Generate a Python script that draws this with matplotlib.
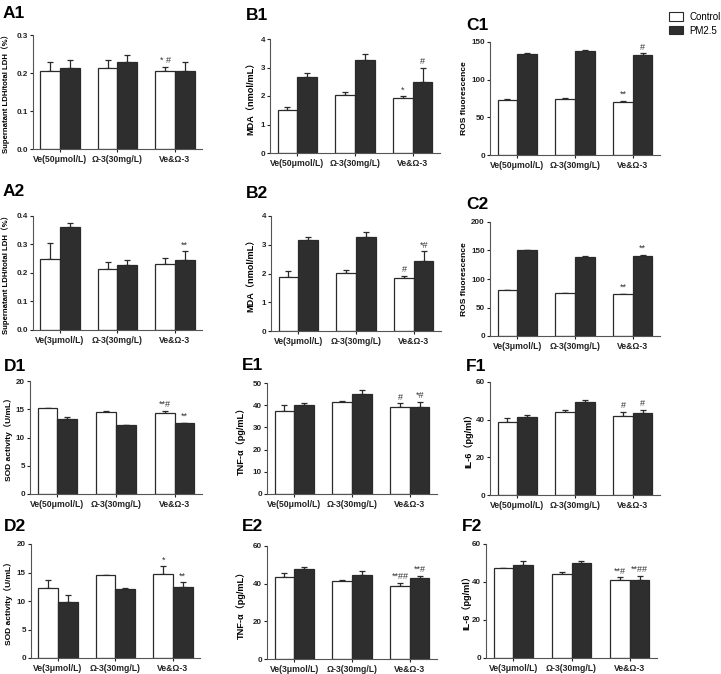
import matplotlib
matplotlib.use("Agg")
import matplotlib.pyplot as plt
from matplotlib.patches import Patch
import numpy as np

plt.rcParams['font.family'] = ['Liberation Sans', 'Noto Sans CJK SC', 'DejaVu Sans']

W, H = 721, 674

groups_50 = ["Ve(50μmol/L)", "Ω-3(30mg/L)", "Ve&Ω-3"]
groups_3 = ["Ve(3μmol/L)", "Ω-3(30mg/L)", "Ve&Ω-3"]
series = ["Control", "PM2.5"]

# Panel data: control means/errors, PM2.5 means/errors, annotations
A1_ctrl = [0.205, 0.213, 0.204]; A1_ctrl_err = [0.023, 0.022, 0.013]
A1_pm = [0.214, 0.228, 0.206];   A1_pm_err = [0.021, 0.019, 0.023]
A1_ann = [("", ""), ("", ""), ("* #", "")]

B1_ctrl = [1.52, 2.02, 1.92];   B1_ctrl_err = [0.10, 0.12, 0.08]
B1_pm = [2.66, 3.28, 2.50];     B1_pm_err = [0.13, 0.18, 0.50]
B1_ann = [("", ""), ("", ""), ("*", "#")]

C1_ctrl = [73, 75, 71];         C1_ctrl_err = [1.0, 0.7, 1.0]
C1_pm = [134, 138, 133];        C1_pm_err = [1.5, 1.5, 2.0]
C1_ann = [("", ""), ("", ""), ("**", "#")]

A2_ctrl = [0.250, 0.215, 0.232]; A2_ctrl_err = [0.057, 0.025, 0.020]
A2_pm = [0.360, 0.229, 0.246];   A2_pm_err = [0.017, 0.018, 0.030]
A2_ann = [("", ""), ("", ""), ("", "**")]

B2_ctrl = [1.87, 2.02, 1.85];   B2_ctrl_err = [0.22, 0.10, 0.08]
B2_pm = [3.18, 3.28, 2.44];     B2_pm_err = [0.10, 0.18, 0.33]
B2_ann = [("", ""), ("", ""), ("#", "*#")]

C2_ctrl = [80, 75, 73];         C2_ctrl_err = [1.0, 1.0, 1.5]
C2_pm = [150, 139, 141];        C2_pm_err = [0.5, 1.5, 1.5]
C2_ann = [("", ""), ("", ""), ("**", "**")]

D1_ctrl = [15.2, 14.6, 14.4];   D1_ctrl_err = [0.0, 0.15, 0.3]
D1_pm = [13.3, 12.2, 12.5];     D1_pm_err = [0.35, 0.10, 0.15]
D1_ann = [("", ""), ("", ""), ("**#", "**")]

E1_ctrl = [37.2, 41.5, 39.2];   E1_ctrl_err = [3.0, 0.3, 1.7]
E1_pm = [40.0, 45.0, 39.3];     E1_pm_err = [1.2, 1.8, 2.2]
E1_ann = [("", ""), ("", ""), ("#", "*#")]

F1_ctrl = [38.5, 44.0, 42.2];   F1_ctrl_err = [2.5, 1.0, 1.8]
F1_pm = [41.2, 49.5, 43.5];     F1_pm_err = [1.2, 0.8, 1.8]
F1_ann = [("", ""), ("", ""), ("#", "#")]

D2_ctrl = [12.3, 14.6, 14.7];   D2_ctrl_err = [1.3, 0.0, 1.4]
D2_pm = [9.9, 12.1, 12.5];      D2_pm_err = [1.1, 0.15, 0.8]
D2_ann = [("", ""), ("", ""), ("*", "**")]

E2_ctrl = [43.5, 41.3, 38.8];   E2_ctrl_err = [2.2, 0.7, 1.6]
E2_pm = [48.0, 44.8, 42.8];     E2_pm_err = [1.0, 2.0, 1.5]
E2_ann = [("", ""), ("", ""), ("**##", "**#")]

F2_ctrl = [47.2, 44.2, 41.0];   F2_ctrl_err = [0.4, 1.0, 1.5]
F2_pm = [49.2, 49.8, 41.0];     F2_pm_err = [2.0, 1.0, 2.2]
F2_ann = [("", ""), ("", ""), ("**#", "**##")]

LDH = "Supernatant LDH/total LDH（%）"
MDA = "MDA（nmol/mL）"
ROS = "ROS fluorescence"
SOD = "SOD activity（U/mL）"
TNF = "TNF-α（pg/mL）"
IL6 = "IL-6（pg/ml）"

# name, box(l,r,t,b px), label pos(x,y px), ylabel right-edge px, ylabel size,
# ylim max, tick step, fmt, groups, data
panels = [
    ("A1", (33, 202, 35, 149), (3, 6), 10, 5.6, 0.3, 0.1, "%.1f", groups_50, LDH, A1_ctrl, A1_ctrl_err, A1_pm, A1_pm_err, A1_ann),
    ("B1", (270, 440, 39, 153), (246, 8), 255, 6.6, 4, 1, "%d", groups_50, MDA, B1_ctrl, B1_ctrl_err, B1_pm, B1_pm_err, B1_ann),
    ("C1", (490, 660, 42, 155), (466, 18), 468, 6.1, 150, 50, "%d", groups_50, ROS, C1_ctrl, C1_ctrl_err, C1_pm, C1_pm_err, C1_ann),
    ("A2", (33, 202, 216, 330), (3, 184), 10, 5.6, 0.4, 0.1, "%.1f", groups_3, LDH, A2_ctrl, A2_ctrl_err, A2_pm, A2_pm_err, A2_ann),
    ("B2", (271, 441, 216, 331), (246, 186), 255, 6.6, 4, 1, "%d", groups_3, MDA, B2_ctrl, B2_ctrl_err, B2_pm, B2_pm_err, B2_ann),
    ("C2", (490, 660, 222, 336), (466, 197), 468, 6.1, 200, 50, "%d", groups_3, ROS, C2_ctrl, C2_ctrl_err, C2_pm, C2_pm_err, C2_ann),
    ("D1", (30, 202, 381, 494), (4, 359), 13, 6.0, 20, 5, "%d", groups_50, SOD, D1_ctrl, D1_ctrl_err, D1_pm, D1_pm_err, D1_ann),
    ("E1", (267, 437, 383, 494), (242, 358), 246, 6.6, 50, 10, "%d", groups_50, TNF, E1_ctrl, E1_ctrl_err, E1_pm, E1_pm_err, E1_ann),
    ("F1", (490, 660, 382, 495), (466, 359), 473, 6.6, 60, 20, "%d", groups_50, IL6, F1_ctrl, F1_ctrl_err, F1_pm, F1_pm_err, F1_ann),
    ("D2", (31, 200, 544, 658), (4, 519), 13, 6.0, 20, 5, "%d", groups_3, SOD, D2_ctrl, D2_ctrl_err, D2_pm, D2_pm_err, D2_ann),
    ("E2", (267, 437, 546, 659), (242, 519), 246, 6.6, 60, 20, "%d", groups_3, TNF, E2_ctrl, E2_ctrl_err, E2_pm, E2_pm_err, E2_ann),
    ("F2", (486, 657, 544, 658), (462, 519), 471, 6.6, 60, 20, "%d", groups_3, IL6, F2_ctrl, F2_ctrl_err, F2_pm, F2_pm_err, F2_ann),
]

fig = plt.figure(figsize=(W / 100, H / 100), dpi=100)

CTRL_C = "white"
PM_C = "#2e2e2e"
EDGE = "#2a2a2a"
bw = 0.34

for (name, (l, r, t, b), (lx, ly), ylr, ylsize, ymax, step, fmt, groups, ylab,
     ctrl, ctrl_e, pm, pm_e, ann) in panels:
    ax = fig.add_axes([l / W, 1 - b / H, (r - l) / W, (b - t) / H])
    x = np.arange(len(groups))
    xc = x - bw / 2
    xp = x + bw / 2
    ax.bar(xc, ctrl, bw, color=CTRL_C, edgecolor=EDGE, linewidth=0.9, zorder=2)
    ax.bar(xp, pm, bw, color=PM_C, edgecolor=EDGE, linewidth=0.9, zorder=2)
    ax.errorbar(xc, ctrl, yerr=[np.zeros(3), ctrl_e], fmt="none", ecolor=EDGE,
                elinewidth=0.9, capsize=2.5, capthick=0.9, zorder=1)
    ax.errorbar(xp, pm, yerr=[np.zeros(3), pm_e], fmt="none", ecolor=EDGE,
                elinewidth=0.9, capsize=2.5, capthick=0.9, zorder=1)
    for i, (a_c, a_p) in enumerate(ann):
        if a_c:
            ax.text(xc[i], ctrl[i] + ctrl_e[i] + ymax * 0.015, a_c, ha="center",
                    va="bottom", fontsize=6.5, color="#333333")
        if a_p:
            ax.text(xp[i], pm[i] + pm_e[i] + ymax * 0.015, a_p, ha="center",
                    va="bottom", fontsize=6.5, color="#333333")
    ax.set_xlim(-0.47, 2.47)
    ax.set_ylim(0, ymax)
    ticks = np.arange(0, ymax + step / 2, step)
    ax.set_yticks(ticks)
    ax.set_yticklabels([fmt % v for v in ticks], fontsize=5.8, fontweight="bold")
    ax.set_xticks(x)
    ax.set_xticklabels(groups, fontsize=6.2, fontweight="bold")
    ax.tick_params(axis="y", length=2.5, width=0.8, pad=1.2, colors="#222222")
    ax.tick_params(axis="x", length=2.5, width=0.8, pad=1.5, colors="#222222")
    for s in ("top", "right"):
        ax.spines[s].set_visible(False)
    for s in ("left", "bottom"):
        ax.spines[s].set_color("#555555")
        ax.spines[s].set_linewidth(0.8)
    ax.set_ylabel(ylab, fontsize=ylsize, fontweight="bold")
    ax.yaxis.set_label_coords((ylr - l) / (r - l), 0.5)
    fig.text(lx / W, 1 - ly / H, name, fontsize=12.5, fontweight="bold", ha="left", va="top")

handles = [Patch(facecolor=CTRL_C, edgecolor=EDGE, linewidth=0.8),
           Patch(facecolor=PM_C, edgecolor=EDGE, linewidth=0.8)]
fig.legend(handles, series, loc="upper left", bbox_to_anchor=(665 / W, 1 - 8 / H),
           frameon=False, fontsize=7, handlelength=1.5, handleheight=0.9,
           handletextpad=0.6, labelspacing=0.4, borderaxespad=0)

fig.savefig("out.png", dpi=100)
